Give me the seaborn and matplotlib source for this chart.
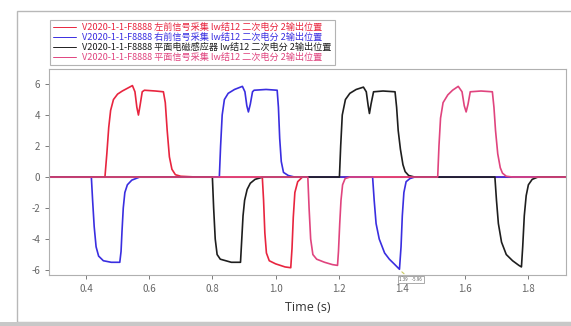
import numpy as np
import pandas as pd
import seaborn as sns
import matplotlib.pyplot as plt
from matplotlib.patches import Rectangle

# 四路信号 (时间 s, 电压)
labels = [
    "V2020-1-1-F8888 左前信号采集 lw结12 二次电分 2输出位置",
    "V2020-1-1-F8888 右前信号采集 lw结12 二次电分 2输出位置",
    "V2020-1-1-F8888 平面电磁感应器 lw结12 二次电分 2输出位置",
    "V2020-1-1-F8888 平面信号采集 lw结12 二次电分 2输出位置",
]
colors = ["#e8253f", "#3a2ee0", "#1e1e1e", "#e0447e"]

red_t = [0.285, 0.46, 0.466, 0.472, 0.478, 0.487, 0.50, 0.515, 0.547, 0.555, 0.561, 0.566,
         0.571, 0.578, 0.585, 0.62, 0.645, 0.651, 0.657, 0.664, 0.672, 0.683, 0.70, 0.75,
         0.958, 0.962, 0.966, 0.971, 0.98, 1.00, 1.03, 1.048, 1.052, 1.056, 1.061, 1.07, 1.085, 1.92]
red_v = [0, 0, 1.5, 3.2, 4.3, 5.0, 5.35, 5.55, 5.9, 5.5, 4.5, 4.0,
         4.6, 5.5, 5.6, 5.55, 5.5, 4.8, 3.0, 1.3, 0.5, 0.15, 0.05, 0,
         0, -1.5, -3.6, -4.9, -5.4, -5.6, -5.8, -5.85, -4.6, -2.6, -1.0, -0.3, 0, 0]

blue_t = [0.285, 0.417, 0.421, 0.426, 0.432, 0.44, 0.455, 0.48, 0.507, 0.511, 0.514, 0.518,
          0.523, 0.531, 0.545, 0.57, 0.822, 0.826, 0.831, 0.838, 0.85, 0.87, 0.895, 0.903,
          0.909, 0.914, 0.92, 0.927, 0.932, 0.97, 1.005, 1.009, 1.013, 1.018, 1.025, 1.04,
          1.06, 1.307, 1.312, 1.318, 1.328, 1.345, 1.36, 1.375, 1.392, 1.397, 1.401, 1.406,
          1.413, 1.425, 1.44, 1.92]
blue_v = [0, 0, -1.5, -3.2, -4.5, -5.1, -5.4, -5.5, -5.5, -4.8, -3.5, -2.0,
          -1.0, -0.5, -0.2, 0, 0, 2.0, 4.0, 5.0, 5.4, 5.65, 5.85, 5.5,
          4.6, 4.2, 4.7, 5.5, 5.6, 5.65, 5.6, 4.5, 2.5, 1.0, 0.3, 0.1,
          0, 0, -1.5, -3.0, -4.0, -4.9, -5.3, -5.6, -5.95, -4.5, -2.5, -1.0,
          -0.3, -0.1, 0, 0]

black_t = [0.285, 0.8, 0.804, 0.809, 0.815, 0.825, 0.86, 0.889, 0.893, 0.897, 0.902, 0.91,
           0.92, 0.935, 0.96, 1.202, 1.206, 1.211, 1.221, 1.235, 1.255, 1.278, 1.287, 1.293,
           1.297, 1.302, 1.31, 1.34, 1.378, 1.383, 1.388, 1.395, 1.403, 1.41, 1.421, 1.44,
           1.694, 1.699, 1.705, 1.715, 1.73, 1.75, 1.77, 1.778, 1.782, 1.787, 1.793, 1.80,
           1.812, 1.83, 1.92]
black_v = [0, 0, -2.0, -4.0, -5.0, -5.3, -5.5, -5.5, -4.0, -2.5, -1.5, -0.8,
           -0.4, -0.15, 0, 0, 2.0, 4.0, 5.0, 5.4, 5.65, 5.8, 5.5, 4.6,
           4.1, 4.7, 5.5, 5.55, 5.5, 4.5, 3.0, 1.8, 0.8, 0.35, 0.1, 0,
           0, -1.5, -3.0, -4.2, -5.0, -5.4, -5.7, -5.8, -4.5, -2.5, -1.2, -0.5,
           -0.15, 0, 0]

pink_t = [0.285, 1.102, 1.106, 1.111, 1.118, 1.13, 1.155, 1.18, 1.196, 1.199, 1.203, 1.207,
          1.212, 1.22, 1.235, 1.513, 1.517, 1.522, 1.53, 1.545, 1.56, 1.578, 1.59, 1.597,
          1.603, 1.609, 1.616, 1.65, 1.686, 1.691, 1.696, 1.703, 1.711, 1.718, 1.73, 1.75, 1.92]
pink_v = [0, 0, -2.0, -4.0, -5.0, -5.3, -5.5, -5.65, -5.7, -4.8, -3.0, -1.5,
          -0.5, -0.1, 0, 0, 2.0, 3.8, 4.8, 5.3, 5.6, 5.85, 5.5, 4.6,
          4.2, 4.7, 5.5, 5.55, 5.5, 4.5, 3.0, 1.5, 0.6, 0.25, 0.05, 0, 0]

series_t = [red_t, blue_t, black_t, pink_t]
series_v = [red_v, blue_v, black_v, pink_v]

frames = []
for i, (t, v) in enumerate(zip(series_t, series_v)):
    frames.append(pd.DataFrame({"t": t, "v": v, "series": labels[i], "order": np.arange(len(t))}))
df = pd.concat(frames, ignore_index=True)

sns.set_theme(style="white")
plt.rcParams["font.family"] = ["Noto Sans CJK SC", "DejaVu Sans"]
plt.rcParams["axes.unicode_minus"] = False

fig = plt.figure(figsize=(5.71, 3.26), dpi=100)
fig.patch.set_facecolor("white")

# 外框
fig.patches.append(Rectangle((17 / 571, 4 / 326), 1.0, 1 - 15 / 326, transform=fig.transFigure,
                             fill=False, edgecolor="#b8b8b8", linewidth=1.0, zorder=0))
fig.patches.append(Rectangle((0, 0), 1.0, 4 / 326, transform=fig.transFigure,
                             facecolor="#c8c8c8", edgecolor="none", zorder=0))

ax = fig.add_axes([49 / 571, 51 / 326, 517 / 571, 206 / 326])
ax.axhline(0, color="#9a9a9a", linewidth=0.8, zorder=1)

sns.lineplot(data=df, x="t", y="v", hue="series", hue_order=labels, palette=colors,
             sort=False, estimator=None, units="series", linewidth=1.2, ax=ax)

ax.set_xlim(0.283, 1.919)
ax.set_ylim(-6.32, 6.97)
ax.set_xticks([0.4, 0.6, 0.8, 1.0, 1.2, 1.4, 1.6, 1.8])
ax.set_yticks([-6, -4, -2, 0, 2, 4, 6])
ax.tick_params(axis="both", labelsize=7, colors="#666666", length=3, width=0.6,
               bottom=True, left=True, direction="out")
for sp in ax.spines.values():
    sp.set_color("#b0b0b0")
    sp.set_linewidth(0.8)

ax.set_ylabel("")
ax.set_xlabel("Time (s)", fontsize=9, color="#333333", family=["Open Sans", "DejaVu Sans"],
              labelpad=5)

# 数据提示框
ax.annotate("1.39    -5.96", xy=(1.393, -6.0), xytext=(1.392, -6.62),
            textcoords="data", fontsize=3.2, color="#555555", annotation_clip=False,
            ha="left", va="center",
            bbox=dict(boxstyle="square,pad=0.3", fc="white", ec="#888888", lw=0.5),
            arrowprops=dict(arrowstyle="-", color="#c8c860", lw=0.8))

sns.move_legend(ax, "upper left", bbox_to_anchor=(45 / 571, 1 - 15 / 326),
                bbox_transform=fig.transFigure, title=None, frameon=True, fontsize=6.6,
                handlelength=2.5, handletextpad=0.7, labelspacing=0.1,
                borderpad=0.35, fancybox=False)
leg = ax.get_legend()
leg.get_frame().set_edgecolor("#a0a0a0")
leg.get_frame().set_linewidth(0.8)
for txt, c in zip(leg.get_texts(), colors):
    txt.set_color(c)
for line in leg.get_lines():
    line.set_linewidth(0.7)

fig.savefig("out.png", dpi=100)
